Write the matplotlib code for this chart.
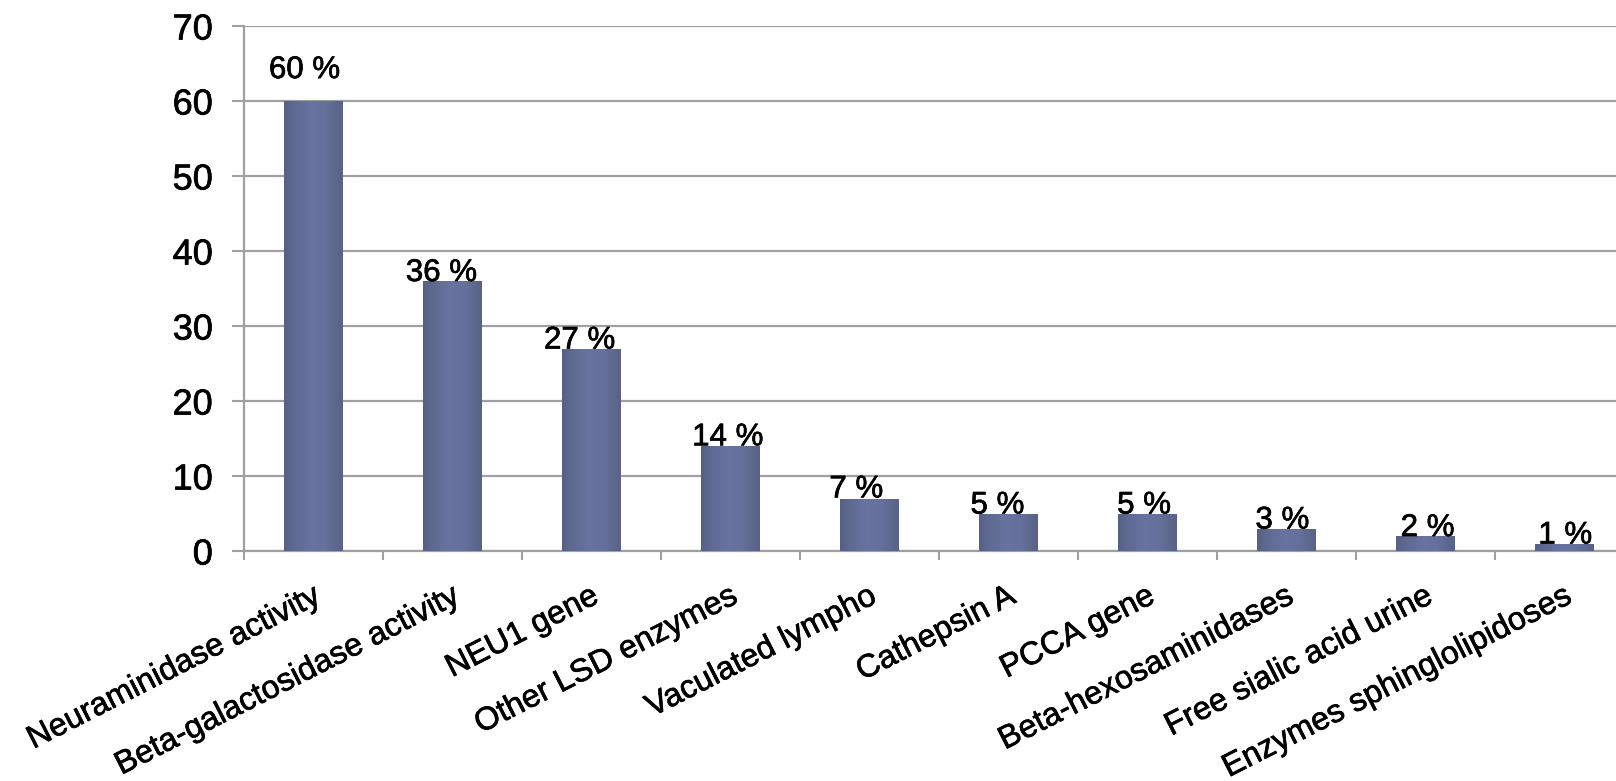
import numpy as np
import matplotlib
matplotlib.use("Agg")
import matplotlib.pyplot as plt
import matplotlib.patheffects as pe
from matplotlib.colors import LinearSegmentedColormap

plt.rcParams['font.family'] = ['Liberation Sans', 'DejaVu Sans']

categories = [
    "Neuraminidase activity",
    "Beta-galactosidase activity",
    "NEU1 gene",
    "Other LSD enzymes",
    "Vaculated lympho",
    "Cathepsin A",
    "PCCA gene",
    "Beta-hexosaminidases",
    "Free sialic acid urine",
    "Enzymes sphinglolipidoses",
]
values = [60, 36, 27, 14, 7, 5, 5, 3, 2, 1]
y_ticks = [0, 10, 20, 30, 40, 50, 60, 70]

W, H, DPI = 1616, 781, 100
fig = plt.figure(figsize=(W / DPI, H / DPI), dpi=DPI)
ax = fig.add_axes([244 / W, (H - 551) / H, 1390 / W, 525 / H])

grid_col = "#a0a0a0"
heavy = [pe.withStroke(linewidth=0.5, foreground="black")]
x = np.arange(len(categories))
bar_w = 0.42

bars = ax.bar(x, values, width=bar_w, color="none", edgecolor="none", zorder=3)

# horizontal shading across each bar: darker edges, lighter middle
shade = LinearSegmentedColormap.from_list(
    "barshade",
    [(0.0, "#566084"), (0.15, "#5e6990"), (0.45, "#6874a0"),
     (0.7, "#65719b"), (0.9, "#5d678e"), (1.0, "#586286")])
grad = np.linspace(0, 1, 256).reshape(1, -1)
for b in bars:
    x0, y0 = b.get_x(), b.get_y()
    im = ax.imshow(grad, cmap=shade, aspect="auto", interpolation="bilinear",
                   extent=(x0, x0 + b.get_width(), y0, y0 + b.get_height()),
                   zorder=3)
    im.set_clip_path(b)

# value labels sitting on the bar tops (offsets in points)
label_dx = [-6.5, -8, -8.5, -2, -9.5, -8, -2.5, -3, 1.5, 0.5]
label_dy = [16.5, 0, 0, 0.5, 0.8, 0, 0, 0, 0, 0]
for i, v in enumerate(values):
    ax.annotate(f"{v} %", xy=(x[i], v), xytext=(label_dx[i], label_dy[i]),
                textcoords="offset points", ha="center", va="baseline",
                fontsize=22.5, color="black", zorder=5, path_effects=heavy)

ax.set_xlim(-0.5, len(categories) - 0.5)
ax.set_ylim(0, 70)
ax.set_yticks(y_ticks)
ax.set_yticklabels([str(t) for t in y_ticks], fontsize=26)
for lbl in ax.get_yticklabels():
    lbl.set_path_effects(heavy)

# category boundaries carry the tick marks
ax.set_xticks(np.arange(len(categories) + 1) - 0.5)
ax.set_xticklabels([])

# slanted category names, right end of baseline anchored under each bar
for i, name in enumerate(categories):
    ax.annotate(name, xy=(x[i], 0), xycoords=ax.get_xaxis_transform(),
                xytext=(6.5, -36.5), textcoords="offset points",
                rotation=27, rotation_mode="anchor", ha="right",
                va="baseline", fontsize=23.2, annotation_clip=False,
                path_effects=heavy)

ax.tick_params(axis="x", which="major", length=6.5, width=1.5, color=grid_col,
               direction="out")
ax.tick_params(axis="y", length=8.5, width=1.5, color=grid_col, pad=14,
               direction="out")

ax.grid(axis="y", color=grid_col, linewidth=1.6, zorder=0)
ax.set_axisbelow(True)
for side in ("top", "right"):
    ax.spines[side].set_visible(False)
for side in ("left", "bottom"):
    ax.spines[side].set_color(grid_col)
    ax.spines[side].set_linewidth(1.6)

fig.savefig("out.png", dpi=DPI, facecolor="white")
